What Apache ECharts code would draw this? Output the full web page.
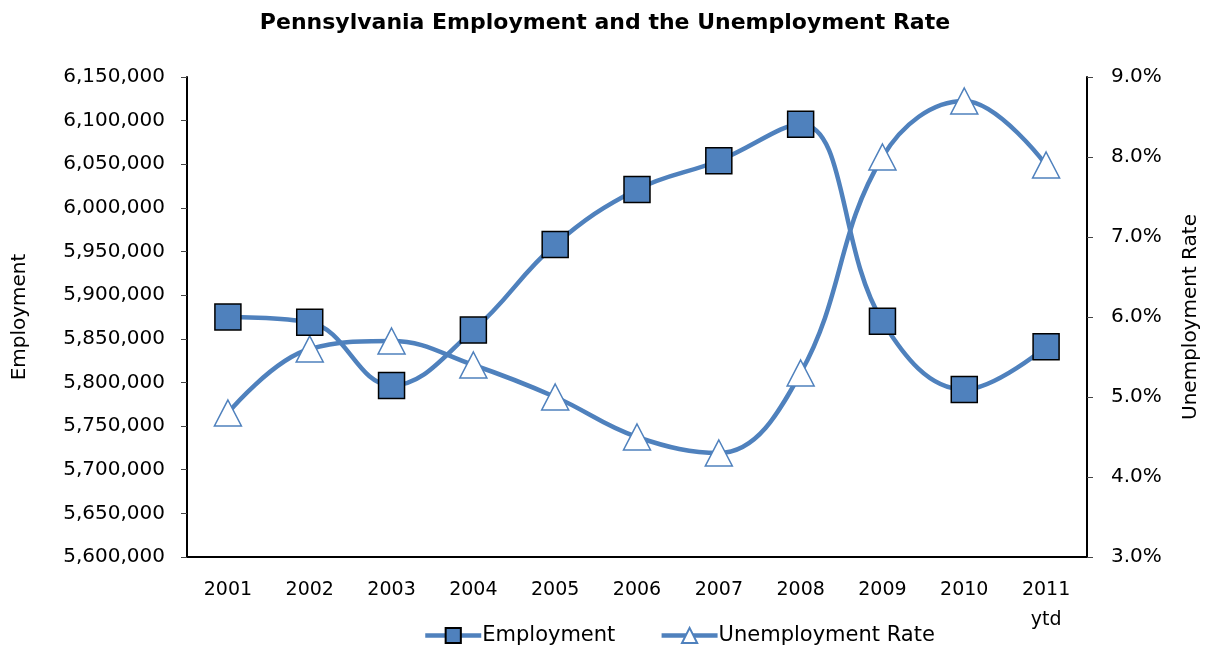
<!DOCTYPE html>
<html>
<head>
<meta charset="utf-8">
<script src="https://cdn.jsdelivr.net/npm/echarts@6/dist/echarts.min.js"></script>
<style>
    html, body { margin: 0; padding: 0; background: #fff; }
    #chart { width: 1210px; height: 648px; }
</style>
</head>
<body>
<div id="chart"></div>
<script>
    var years = ['2001', '2002', '2003', '2004', '2005', '2006', '2007', '2008', '2009', '2010', '2011\nytd'];
    var employment = [5875000, 5869000, 5796500, 5860000, 5958000, 6021000, 6054000, 6096000, 5870000, 5792000, 5841000];
    var unemploymentRate = [4.8, 5.6, 5.7, 5.4, 5.0, 4.5, 4.3, 5.3, 8.0, 8.7, 7.9];

    var blue = '#4F81BD';
    var font = '"DejaVu Sans", sans-serif';

    function commas(v) {
        return String(v).replace(/\B(?=(\d{3})+(?!\d))/g, ',');
    }

    var myChart = echarts.init(document.getElementById('chart'));
    myChart.setOption({
        animation: false,
        textStyle: { fontFamily: font, color: '#000' },
        title: {
            text: 'Pennsylvania Employment and the Unemployment Rate',
            left: 'center',
            top: 7,
            textStyle: { fontFamily: font, fontSize: 22, fontWeight: 'bold', color: '#000' }
        },
        legend: {
            top: 620,
            left: 418,
            itemWidth: 56,
            itemHeight: 19,
            itemGap: 44,
            lineStyle: { width: 4.5 },
            textStyle: { fontFamily: font, fontSize: 21, color: '#000', padding: [0, 0, 0, -4] },
            data: ['Employment', 'Unemployment Rate']
        },
        grid: { left: 187, right: 123, top: 77, bottom: 91 },
        xAxis: {
            type: 'category',
            data: years,
            boundaryGap: true,
            axisLine: { lineStyle: { color: '#000', width: 2 } },
            axisTick: { length: 8, lineStyle: { color: '#333', width: 1 } },
            axisLabel: { fontSize: 19, color: '#000', margin: 18, lineHeight: 30, fontFamily: font }
        },
        yAxis: [{
            type: 'value',
            min: 5600000,
            max: 6150000,
            interval: 50000,
            name: 'Employment',
            nameLocation: 'middle',
            nameRotate: 90,
            nameGap: 157,
            nameTextStyle: { fontSize: 20, color: '#000', fontFamily: font },
            splitLine: { show: false },
            axisLine: { show: true, lineStyle: { color: '#000', width: 2 } },
            axisTick: { show: true, length: 6, lineStyle: { color: '#444' } },
            axisLabel: { fontSize: 20, color: '#000', margin: 22, formatter: commas, fontFamily: font }
        }, {
            type: 'value',
            min: 3,
            max: 9,
            interval: 1,
            name: 'Unemployment Rate',
            nameLocation: 'middle',
            nameRotate: 90,
            nameGap: 94,
            nameTextStyle: { fontSize: 20, color: '#000', fontFamily: font },
            splitLine: { show: false },
            axisLine: { show: true, lineStyle: { color: '#000', width: 2 } },
            axisTick: { show: true, length: 6, lineStyle: { color: '#444' } },
            axisLabel: {
                fontSize: 20, color: '#000', margin: 24, fontFamily: font,
                formatter: function (v) { return v.toFixed(1) + '%'; }
            }
        }],
        series: [{
            name: 'Unemployment Rate',
            type: 'line',
            yAxisIndex: 1,
            data: unemploymentRate,
            smooth: 0.4,
            symbol: 'triangle',
            symbolSize: [27, 26],
            lineStyle: { color: blue, width: 4.5 },
            itemStyle: { color: '#fff', borderColor: blue, borderWidth: 1.5 },
            z: 2
        }, {
            name: 'Employment',
            type: 'line',
            yAxisIndex: 0,
            data: employment,
            smooth: 0.4,
            symbol: 'rect',
            symbolSize: 26,
            lineStyle: { color: blue, width: 4.5 },
            itemStyle: { color: blue, borderColor: '#000', borderWidth: 1.5 },
            z: 3
        }]
    });
</script>
</body>
</html>
